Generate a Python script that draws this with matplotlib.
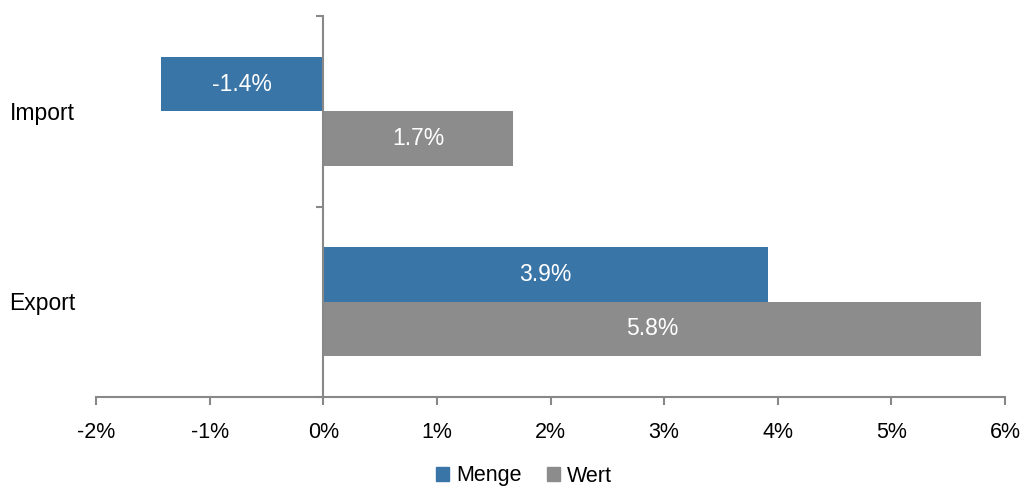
import matplotlib
matplotlib.use("Agg")
import matplotlib.pyplot as plt
from matplotlib.patches import Patch
import numpy as np

categories = ["Export", "Import"]
menge = [3.91, -1.43]
wert = [5.79, 1.67]
series_names = ["Menge", "Wert"]
colors = ["#3A75A7", "#8C8C8C"]
xticks = [-2, -1, 0, 1, 2, 3, 4, 5, 6]

plt.rcParams['font.family'] = ['Liberation Sans', 'DejaVu Sans']

fig = plt.figure(figsize=(10.22, 4.88), dpi=100)
ax = fig.add_axes([96/1022, 1-397/488, (1005-96)/1022, (397-16)/488])

y = np.arange(len(categories))
h = 0.285
off = 0.143
b1 = ax.barh(y + off, menge, height=h, color=colors[0], zorder=2)
b2 = ax.barh(y - off, wert, height=h, color=colors[1], zorder=2)

for bars, vals in ((b1, menge), (b2, wert)):
    for bar, v in zip(bars, vals):
        cy = bar.get_y() + bar.get_height() / 2
        ax.text(v / 2, cy, f"{v:.1f}%", ha="center", va="center",
                color="white", fontsize=16.5)

ax.set_xlim(-2, 6)
ax.set_ylim(-0.5, len(categories) - 0.5)
ax.set_xticks(xticks)
ax.set_xticklabels([f"{t}%" for t in xticks], fontsize=15.5)
ax.set_yticks(np.arange(-0.5, len(categories), 1.0))
ax.set_yticklabels([])

for s in ("top", "right"):
    ax.spines[s].set_visible(False)
ax.spines["left"].set_position(("data", 0))
for s in ("left", "bottom"):
    ax.spines[s].set_color("#888888")
    ax.spines[s].set_linewidth(1.5)
ax.tick_params(axis="x", length=6, width=1.5, color="#888888", direction="out", pad=12)
ax.tick_params(axis="y", length=5, width=1.5, color="#888888", direction="out")

for yi, c in zip(y, categories):
    ax.text(-0.023, yi - 0.01, c, transform=ax.get_yaxis_transform(), ha="right",
            va="center", fontsize=16.5)

handles = [Patch(color=colors[0]), Patch(color=colors[1])]
fig.legend(handles, series_names, loc="center", bbox_to_anchor=(524/1022, 1-476/488),
           ncol=2, frameon=False, fontsize=15.5, handlelength=0.6, handleheight=0.6,
           handletextpad=0.3, columnspacing=1.2, borderpad=0.2)

fig.savefig("out.png", dpi=100)
